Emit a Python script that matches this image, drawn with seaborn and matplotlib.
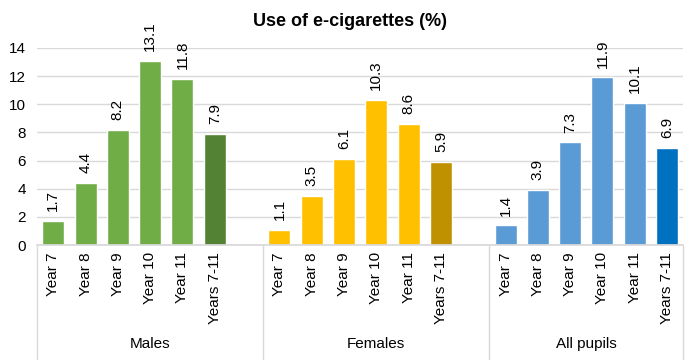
import numpy as np
import pandas as pd
import matplotlib
matplotlib.use("Agg")
import matplotlib.pyplot as plt
import seaborn as sns

# ------------------------------------------------------------------ #
# Data
# ------------------------------------------------------------------ #
years = ["Year 7", "Year 8", "Year 9", "Year 10", "Year 11", "Years 7-11"]
groups = ["Males", "Females", "All pupils"]
males = [1.7, 4.4, 8.2, 13.1, 11.8, 7.9]
females = [1.1, 3.5, 6.1, 10.3, 8.6, 5.9]
all_pupils = [1.4, 3.9, 7.3, 11.9, 10.1, 6.9]

group_colors = {
    "Males": ("#70AD47", "#548235"),
    "Females": ("#FFC000", "#BF9000"),
    "All pupils": ("#5B9BD5", "#0070C0"),
}

sns.set_theme(style="white")
plt.rcParams["font.family"] = ["Liberation Sans", "DejaVu Sans"]
plt.rcParams["text.color"] = "black"

# one blank slot after each of the first two groups (Excel-style)
rows = []
palette = {}
slot = 0
for g, vals in zip(groups, [males, females, all_pupils]):
    for i, (yr, v) in enumerate(zip(years, vals)):
        rows.append({"slot": slot, "group": g, "year": yr, "value": v})
        palette[slot] = group_colors[g][1] if i == len(years) - 1 else group_colors[g][0]
        slot += 1
    if g != groups[-1]:
        slot += 1
n_slots = slot
df = pd.DataFrame(rows)

fig = plt.figure(figsize=(7, 3.6), dpi=100)
ax = fig.add_axes([0.053, 0.319, 0.923, 0.548])

sns.barplot(data=df, x="slot", y="value", hue="slot", palette=palette,
            order=list(range(n_slots)), hue_order=list(df["slot"]),
            width=0.68, legend=False, ax=ax, saturation=1)

for c in ax.containers:
    ax.bar_label(c, fmt="%.1f", rotation=90, padding=7, fontsize=11,
                 color="black", clip_on=False)

ax.set_ylim(0, 14)
ax.set_yticks(range(0, 15, 2))
ax.set_xlim(-0.5, n_slots - 0.5)
ax.yaxis.grid(True, color="#D9D9D9", linewidth=1)
ax.set_axisbelow(True)
for s in ["top", "right", "left"]:
    ax.spines[s].set_visible(False)
ax.spines["bottom"].set_color("#D9D9D9")
ax.tick_params(axis="both", length=0, labelsize=11, colors="black")
ax.tick_params(axis="y", pad=8)
ax.tick_params(axis="x", pad=5)

labels = [""] * n_slots
for _, r in df.iterrows():
    labels[r["slot"]] = r["year"]
ax.set_xticks(range(n_slots))
ax.set_xticklabels(labels, rotation=90, va="top")
ax.set_xlabel("")
ax.set_ylabel("")

# group separators and labels below the axis
trans = matplotlib.transforms.blended_transform_factory(ax.transData, ax.transAxes)
bounds = [-0.5, 6.5, 13.5, n_slots - 0.5]
for b in bounds:
    ax.plot([b, b], [0, -0.6], transform=trans, color="#D9D9D9", lw=1, clip_on=False)
for g, lo, hi in zip(groups, bounds[:-1], bounds[1:]):
    ax.text((lo + hi) / 2, -0.5, g, transform=trans, ha="center", va="center",
            fontsize=11, color="black")

fig.text(0.5, 0.94, "Use of e-cigarettes (%)", ha="center", va="center",
         fontsize=13, fontweight="bold", color="black")

plt.savefig("out.png", dpi=100)
plt.close()
